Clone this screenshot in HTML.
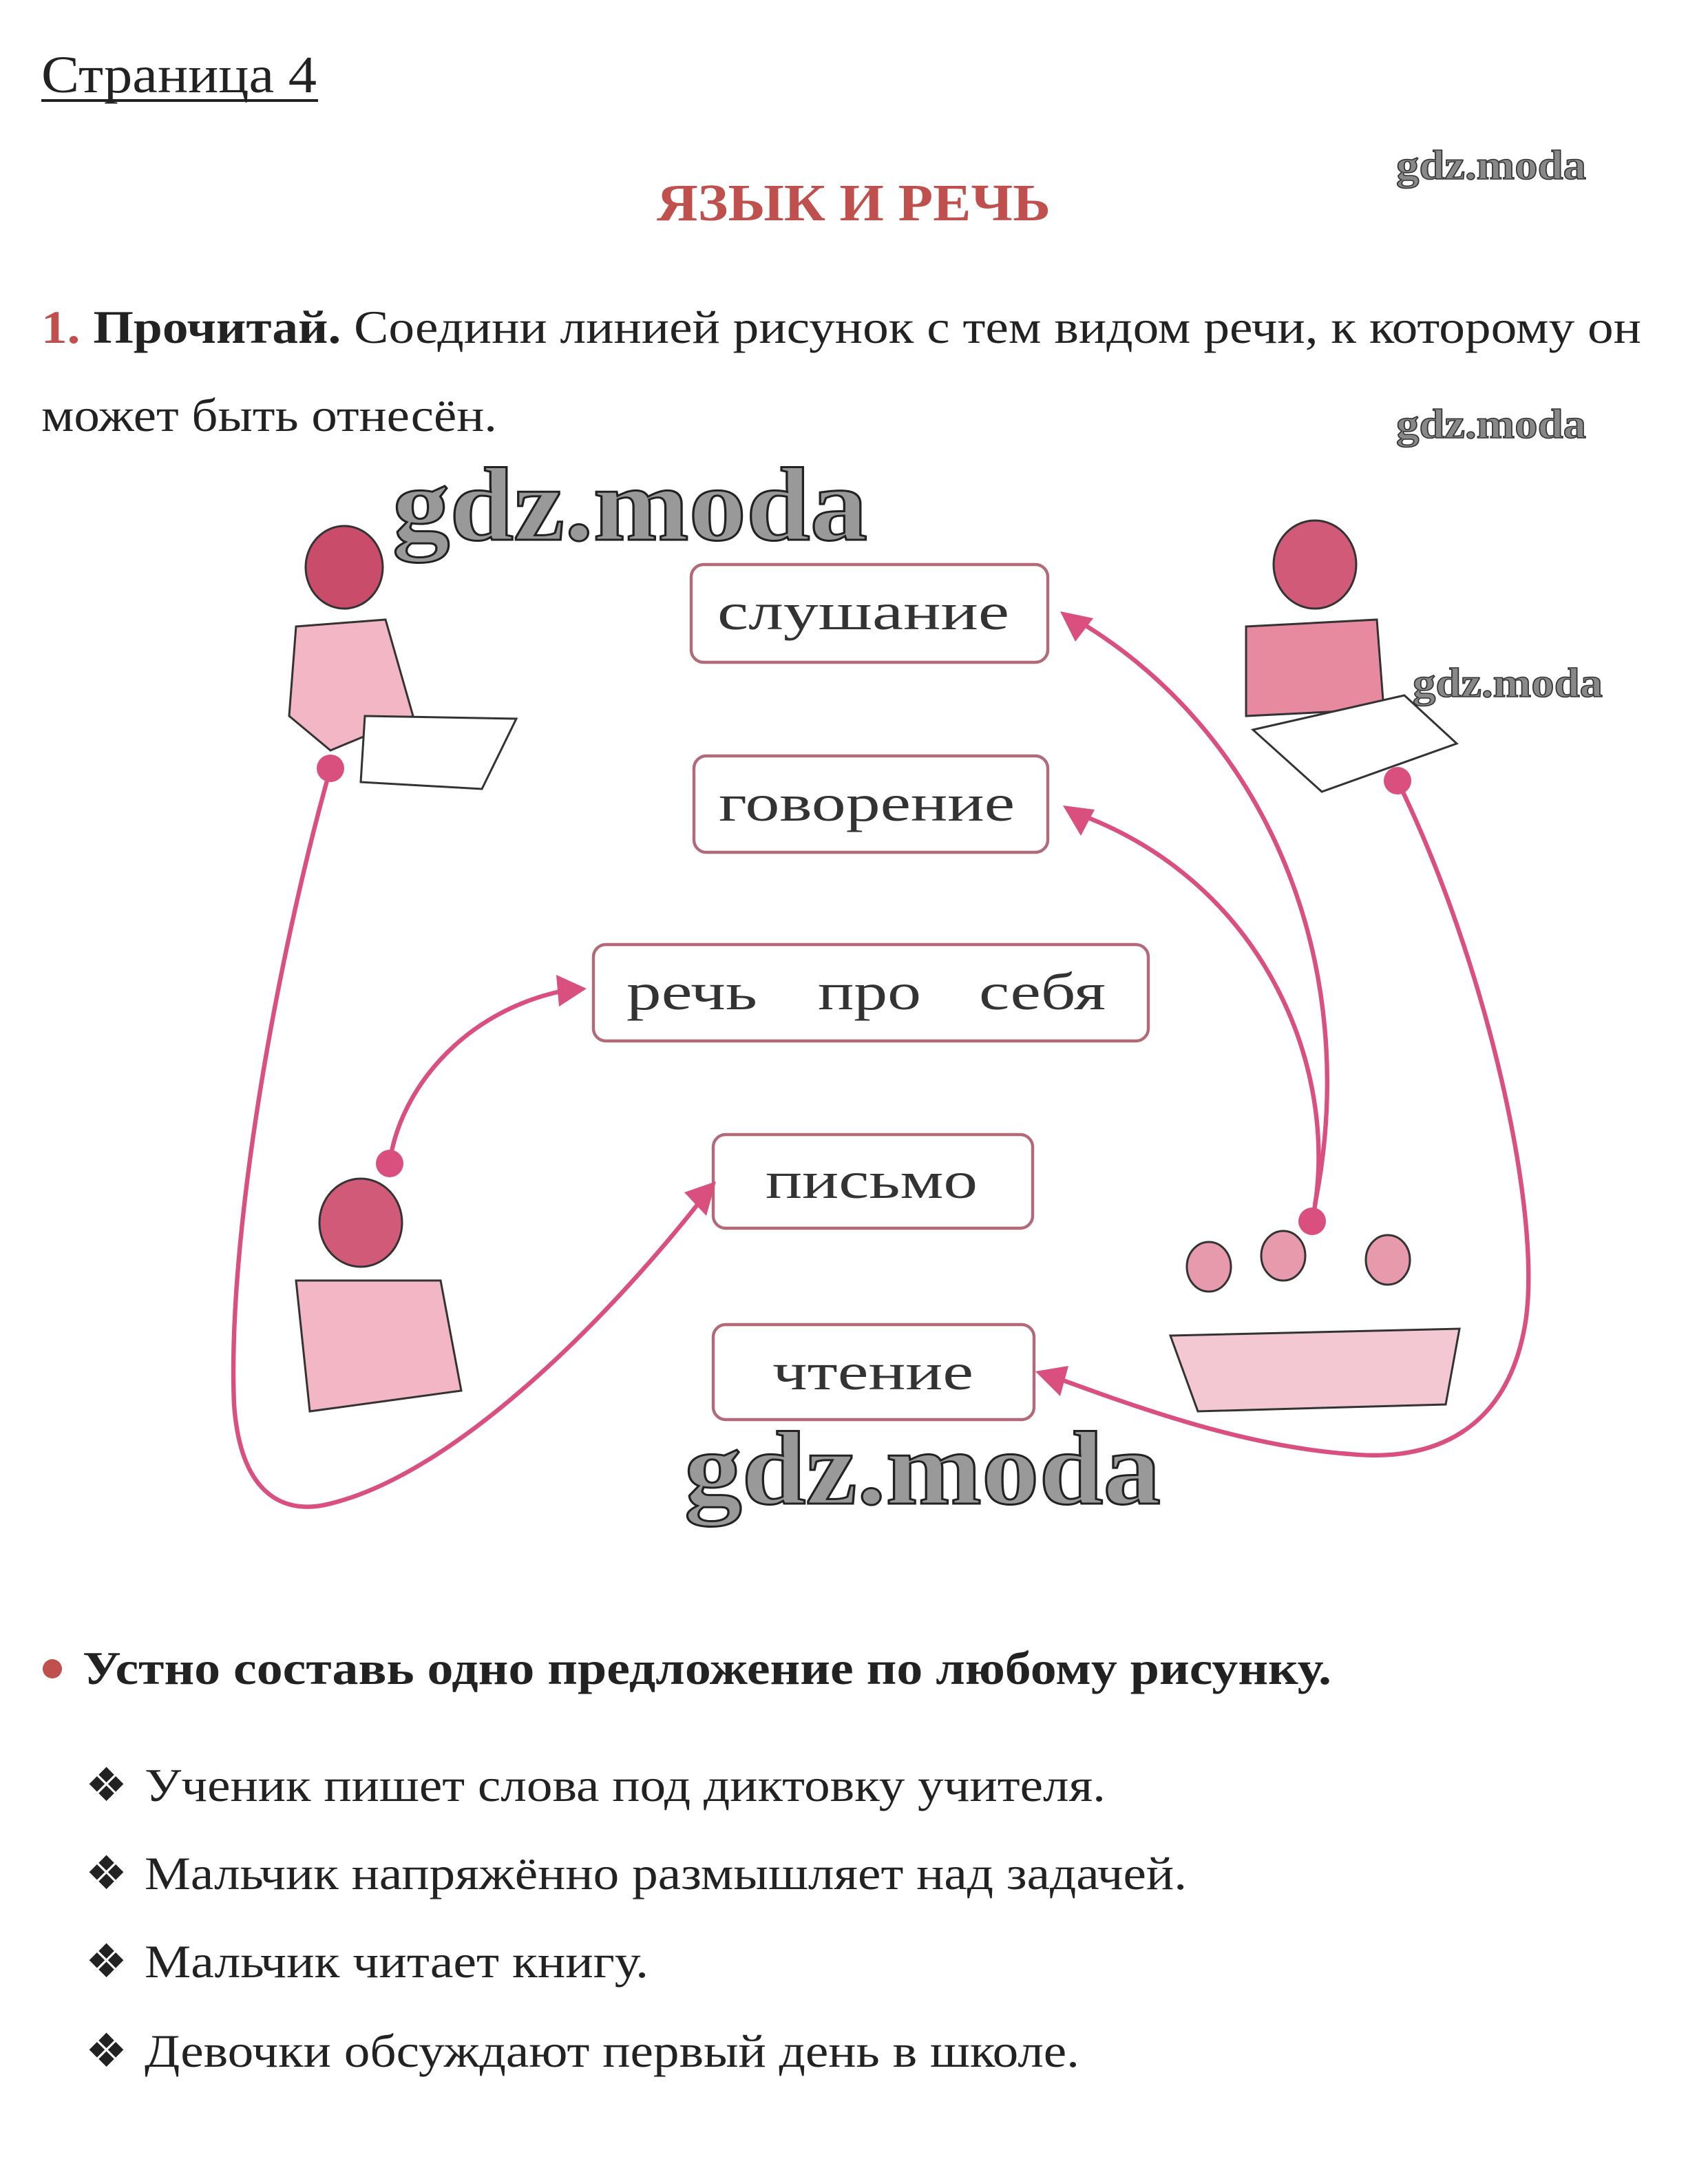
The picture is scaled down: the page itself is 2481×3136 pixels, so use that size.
<!DOCTYPE html>
<html><head><meta charset="utf-8"><style>
html,body{margin:0;padding:0;background:#fff;}
svg{display:block;}
</style></head><body>
<svg width="2481" height="3136" viewBox="0 0 1240.5 1568" xmlns="http://www.w3.org/2000/svg">
<g font-family="Liberation Serif, serif">
<text x="30" y="67" font-size="38" fill="#222" textLength="200" lengthAdjust="spacingAndGlyphs">Страница 4</text>
<line x1="30" y1="73" x2="231" y2="73" stroke="#222" stroke-width="2"/>
<text x="477" y="160" font-size="38" font-weight="bold" fill="#c0504d" textLength="286" lengthAdjust="spacingAndGlyphs">ЯЗЫК И РЕЧЬ</text>
<text x="30" y="249" font-size="34" fill="#222" textLength="1162" lengthAdjust="spacingAndGlyphs"><tspan fill="#c0504d" font-weight="bold">1.</tspan> <tspan font-weight="bold">Прочитай.</tspan> Соедини линией рисунок с тем видом речи, к которому он</text>
<text x="30" y="313" font-size="34" fill="#222" textLength="331" lengthAdjust="spacingAndGlyphs">может быть отнесён.</text>
<g font-weight="bold" fill="#888" stroke="#333" stroke-width="0.8">
<text x="1014" y="130" font-size="30" textLength="138" lengthAdjust="spacingAndGlyphs">gdz.moda</text>
<text x="1014" y="318" font-size="30" textLength="138" lengthAdjust="spacingAndGlyphs">gdz.moda</text>
<text x="1026" y="506" font-size="30" textLength="138" lengthAdjust="spacingAndGlyphs">gdz.moda</text>
<text x="285" y="392" font-size="76" fill="#999" stroke="#222" stroke-width="1.5" textLength="345" lengthAdjust="spacingAndGlyphs">gdz.moda</text>
<text x="497" y="1092" font-size="76" fill="#999" stroke="#222" stroke-width="1.5" textLength="346" lengthAdjust="spacingAndGlyphs">gdz.moda</text>
</g>
<g fill="#fff" stroke="#b26a78" stroke-width="2.2">
<rect x="502" y="410" width="259" height="71" rx="9"/>
<rect x="504" y="549" width="257" height="70" rx="9"/>
<rect x="431" y="686" width="403" height="70" rx="9"/>
<rect x="518" y="824" width="232" height="68" rx="9"/>
<rect x="518" y="962" width="233" height="69" rx="9"/>
</g>
<g font-size="38" fill="#333">
<text x="521" y="457" textLength="212" lengthAdjust="spacingAndGlyphs">слушание</text>
<text x="522" y="596" textLength="215" lengthAdjust="spacingAndGlyphs">говорение</text>
<text x="455" y="733" textLength="95" lengthAdjust="spacingAndGlyphs">речь</text>
<text x="594" y="733" textLength="75" lengthAdjust="spacingAndGlyphs">про</text>
<text x="711" y="733" textLength="92" lengthAdjust="spacingAndGlyphs">себя</text>
<text x="556" y="870" textLength="154" lengthAdjust="spacingAndGlyphs">письмо</text>
<text x="561" y="1009" textLength="146" lengthAdjust="spacingAndGlyphs">чтение</text>
</g>
<g fill="none" stroke="#d9507f" stroke-width="3.2">
<path d="M240 558 C200 700 165 900 170 1020 C175 1090 210 1100 240 1092 C330 1070 440 960 512 868"/>
<path d="M283 845 C290 790 340 730 418 718"/>
<path d="M953 887 C975 780 920 640 780 590"/>
<path d="M955 875 C990 700 920 530 778 448"/>
<path d="M1015 567 C1080 700 1120 880 1108 960 C1095 1040 1040 1062 980 1056 C900 1050 820 1020 760 998"/>
</g>
<g fill="#d9507f">
<circle cx="240" cy="558" r="10"/>
<circle cx="283" cy="845" r="10"/>
<circle cx="953" cy="887" r="10"/>
<circle cx="1015" cy="567" r="10"/>
<polygon points="426,718 404,708 406,731"/>
<polygon points="520,858 497,866 513,883"/>
<polygon points="772,585 795,588 785,607"/>
<polygon points="770,444 794,449 781,466"/>
<polygon points="752,996 776,992 770,1014"/>
</g>
<g stroke="#333" stroke-width="1.5" fill="none">
<g><ellipse cx="250" cy="412" rx="28" ry="30" fill="#c94d6a"/><path d="M215 455 L280 450 L300 520 L240 545 L210 520 Z" fill="#f2b6c4"/><polygon points="265,520 375,522 350,573 262,568" fill="#fff"/></g>
<g><ellipse cx="955" cy="410" rx="30" ry="32" fill="#d05a78"/><path d="M905 455 L1000 450 L1005 515 L905 520 Z" fill="#e7899f"/><polygon points="910,530 1020,505 1058,540 960,575" fill="#fff"/></g>
<g><ellipse cx="262" cy="888" rx="30" ry="32" fill="#d05a78"/><path d="M215 930 L320 930 L335 1010 L225 1025 Z" fill="#f2b6c4"/></g>
<g><ellipse cx="878" cy="920" rx="16" ry="18" fill="#e79aac"/><ellipse cx="932" cy="912" rx="16" ry="18" fill="#e79aac"/><ellipse cx="1008" cy="915" rx="16" ry="18" fill="#e79aac"/><path d="M850 970 L1060 965 L1050 1020 L870 1025 Z" fill="#f4c8d2"/></g>
</g>
<circle cx="38" cy="1212" r="7" fill="#c0504d"/>
<text x="60" y="1223" font-size="34" font-weight="bold" fill="#222" textLength="907" lengthAdjust="spacingAndGlyphs">Устно составь одно предложение по любому рисунку.</text>
<g font-size="34" fill="#222">
<text x="62" y="1308">❖</text><text x="105" y="1308" textLength="698" lengthAdjust="spacingAndGlyphs">Ученик пишет слова под диктовку учителя.</text>
<text x="62" y="1372">❖</text><text x="105" y="1372" textLength="757" lengthAdjust="spacingAndGlyphs">Мальчик напряжённо размышляет над задачей.</text>
<text x="62" y="1436">❖</text><text x="105" y="1436" textLength="366" lengthAdjust="spacingAndGlyphs">Мальчик читает книгу.</text>
<text x="62" y="1501">❖</text><text x="105" y="1501" textLength="679" lengthAdjust="spacingAndGlyphs">Девочки обсуждают первый день в школе.</text>
</g>
</g>
</svg>
</body></html>
